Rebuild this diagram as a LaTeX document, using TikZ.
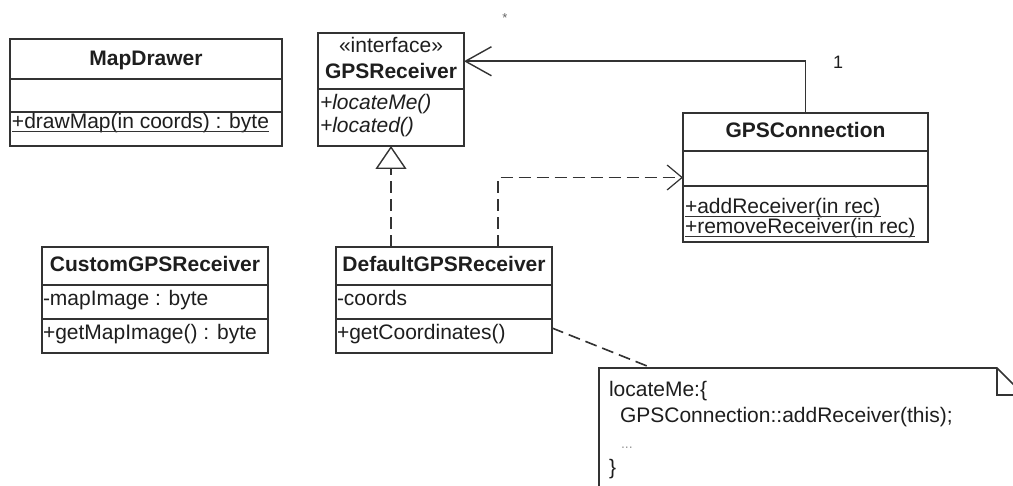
\documentclass[tikz,border=0pt]{standalone}
\usepackage{fontspec}
\setmainfont{Liberation Sans}
\usetikzlibrary{arrows.meta,calc}
\definecolor{ln}{HTML}{333333}
\definecolor{txt}{HTML}{1E1E1E}
\begin{document}
\begin{tikzpicture}[x=1pt,y=-1pt,
  every node/.style={font=\fontsize{21}{23}\selectfont, text=txt, inner sep=0pt, outer sep=0pt},
  box/.style={draw=ln, line width=1.6pt, fill=white},
  sepline/.style={draw=ln, line width=1.6pt},
  title/.style={anchor=base, font=\fontsize{21}{23}\selectfont\bfseries},
  member/.style={anchor=base west},
  uline/.style={draw=ln, line width=1pt},
  conn/.style={draw=ln, line width=1.6pt},
  dashedline/.style={conn, dash pattern=on 12pt off 6pt},
]
\useasboundingbox (0,0) rectangle (1013,486);
\clip (0,0) rectangle (1013,486);

% ---------- MapDrawer ----------
\node[box, minimum width=272pt, minimum height=107pt] (md) at (146,92.5) {};
\draw[sepline] (10,79) -- (282,79);
\draw[sepline] (10,112) -- (282,112);
\node[title] (mdt) at (146,66) {MapDrawer};
\node[member] (mdo) at (12,129) {+drawMap(in coords) : byte};
\draw[uline] ([yshift=-3pt]mdo.base west) -- ([yshift=-3pt]mdo.base east);

% ---------- GPSReceiver ----------
\node[box, minimum width=146pt, minimum height=113pt] (gr) at (391,89.5) {};
\draw[sepline] (318,89) -- (464,89);
\node[anchor=base] (grs) at (391,53) {«interface»};
\node[title] (grt) at (391,79) {GPSReceiver};
\node[member] (gro1) at (320,110) {\itshape +locateMe()};
\node[member] (gro2) at (320,133) {\itshape +located()};

% ---------- GPSConnection ----------
\node[box, minimum width=245pt, minimum height=129pt] (gc) at (805.5,177.5) {};
\draw[sepline] (683,151) -- (928,151);
\draw[sepline] (683,186) -- (928,186);
\node[title] (gct) at (805.5,138) {GPSConnection};
\node[member] (gco1) at (685,214) {+addReceiver(in rec)};
\draw[uline] ([yshift=-3pt]gco1.base west) -- ([yshift=-3pt]gco1.base east);
\node[member] (gco2) at (685,234) {+removeReceiver(in rec)};
\draw[uline] ([yshift=-3pt]gco2.base west) -- ([yshift=-3pt]gco2.base east);

% ---------- CustomGPSReceiver ----------
\node[box, minimum width=226pt, minimum height=106pt] (cr) at (155,300) {};
\draw[sepline] (42,285) -- (268,285);
\draw[sepline] (42,319) -- (268,319);
\node[title] (crt) at (155,272) {CustomGPSReceiver};
\node[member] (cra) at (43,306) {-mapImage : byte};
\node[member] (cro) at (43,340) {+getMapImage() : byte};

% ---------- DefaultGPSReceiver ----------
\node[box, minimum width=216pt, minimum height=106pt] (dr) at (444,300) {};
\draw[sepline] (336,285) -- (552,285);
\draw[sepline] (336,319) -- (552,319);
\node[title] (drt) at (444,272) {DefaultGPSReceiver};
\node[member] (dra) at (337,306) {-coords};
\node[member] (dro) at (337,340) {+getCoordinates()};

% ---------- Note ----------
\draw[conn, fill=white] (599,500) -- (599,368) -- (997,368) -- (1025,396) -- (1025,500);
\draw[conn] (997,368) -- (997,395) -- (1025,395);
\coordinate (notetop) at (652,368);
\node[member] (n1) at (609,397) {locateMe:\{};
\node[member] (n2) at (620,423) {GPSConnection::addReceiver(this);};
\node[member, font=\fontsize{14}{15}\selectfont, text=black!40] (n3) at (621,449) {...};
\node[member] (n4) at (609,475) {\}};

% ---------- Connectors ----------
\coordinate (grassoc) at ($(gr.north east)!0.25!(gr.south east)$);
\draw[conn, -{Straight Barb[length=26pt,width=29pt,line width=1.4pt]}] (gc.north) |- (grassoc);
\node[anchor=base, font=\fontsize{18}{19}\selectfont] (m1) at (838,69) {1};
\node[anchor=base, font=\fontsize{13}{14}\selectfont, text=black!60] (m2) at (505,23) {*};

\draw[dashedline, -{Triangle[length=23pt,width=31pt,fill=white,line width=1.4pt]}] (dr.north -| gr.south) -- (gr.south);

\coordinate (depstart) at ($(dr.north west)!0.75!(dr.north east)$);
\draw[dashedline, -{Straight Barb[length=15pt,width=25pt,line width=1.2pt]}] (depstart) |- (gc.west);

\coordinate (drnote) at ($(dr.south east)+(0,-25)$);
\draw[dashedline] (drnote) -- (notetop);
\end{tikzpicture}
\end{document}
